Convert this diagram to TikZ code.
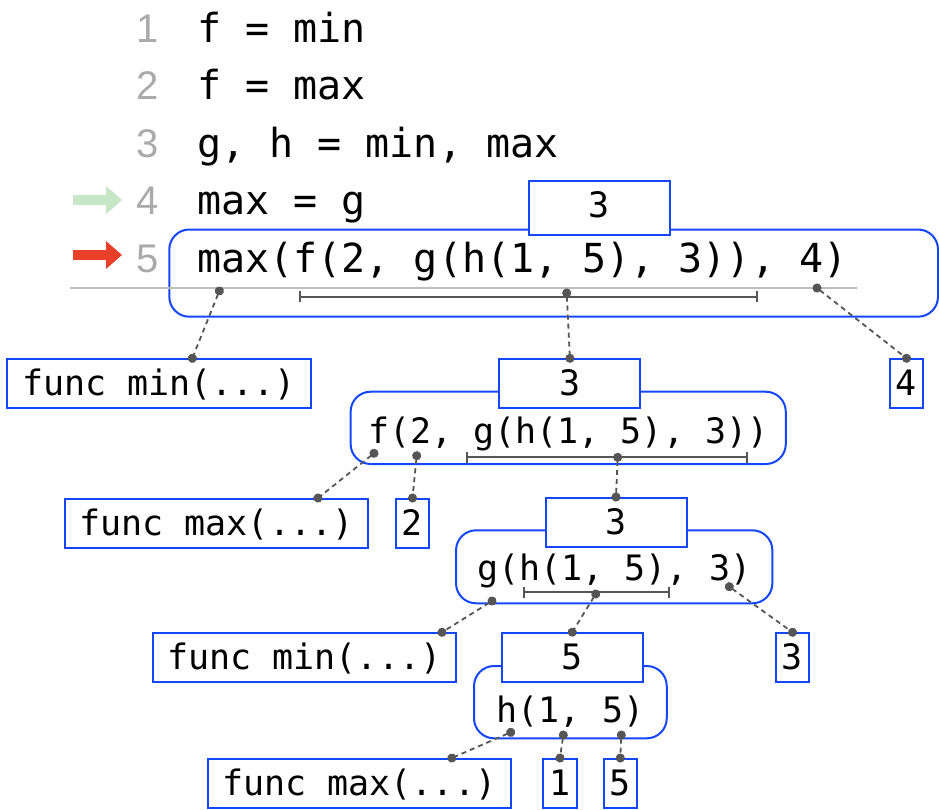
\documentclass[tikz,border=0pt]{standalone}
\usepackage{fontspec}
\usetikzlibrary{arrows.meta}
\newfontfamily\codemono{DejaVu Sans Mono}
\newfontfamily\numsans{Liberation Sans}
\definecolor{frameblue}{RGB}{20,70,255}
\definecolor{linkgray}{RGB}{85,85,85}
\definecolor{rulegray}{RGB}{190,190,190}
\definecolor{numgray}{RGB}{170,170,170}
\definecolor{nextgreen}{RGB}{198,230,198}
\definecolor{nowred}{RGB}{234,64,42}
\tikzset{
  codeline/.style={anchor=base west, inner sep=0pt, font=\codemono\fontsize{40}{48}\selectfont},
  lineno/.style={anchor=base east, inner sep=0pt, text=numgray, font=\numsans\fontsize{40}{48}\selectfont},
  frame/.style={draw=frameblue, line width=2pt, fill=white, inner ysep=0.5pt, text height=36pt, text depth=12pt, font=\codemono\fontsize{35}{42}\selectfont},
  result/.style={frame, minimum width=141pt, inner xsep=0pt},
  value/.style={frame, inner xsep=6pt},
  func/.style={frame, inner xsep=14.7pt},
  call/.style={draw=frameblue, line width=2pt, rounded corners=20pt, inner ysep=0pt, anchor=base, font=\codemono\fontsize{35}{42}\selectfont},
  link/.style={draw=linkgray, line width=1.8pt, dash pattern=on 5pt off 4pt, {Circle[length=9pt]}-{Circle[length=9pt]}, shorten <=-4.5pt, shorten >=-4.5pt},
  span/.style={draw=linkgray, line width=2pt, {Bar[width=11pt]}-{Bar[width=11pt]}},
  marker/.style={line width=10pt, -{Triangle[length=16pt,width=27pt]}},
}
\begin{document}
\begin{tikzpicture}[x=1pt, y=-1pt]
  \useasboundingbox (0,0) rectangle (939,809);
  % source lines
  \foreach \n/\y in {1/42,2/99.5,3/157,4/214.5,5/272}
    \node[lineno] (num\n) at (159,\y) {\n};
  \node[codeline] (line1) at (197,42) {f = min};
  \node[codeline] (line2) at (197,99.5) {f = max};
  \node[codeline] (line3) at (197,157) {g, h = min, max};
  \node[codeline] (line4) at (197,214.5) {max = g};
  \draw[marker, nextgreen] (73,200) -- (122,200);
  \draw[marker, nowred] (73,255) -- (122,255);
  % outer call
  \draw[frameblue, line width=2pt, rounded corners=20pt] (169.3,229.5) rectangle (938,316.7);
  \draw[rulegray, line width=2pt] (70,288) -- (857,288);
  \node[codeline] (line5) at (197,272) {max(f(2, g(h(1, 5), 3)), 4)};
  \node[result, minimum height=54pt, text height=30pt] (res0) at (599.5,208) {3};
  \draw[span] (299.3,296.7) -- (758.3,296.7);
  \coordinate (d0a) at (219.3,291);
  \coordinate (d0b) at (566.7,293);
  \coordinate (d0c) at (817,288);
  \node[func] (fnmin1) at (159,383.8) {func min(...)};
  \node[value] (val4) at (906.5,383.8) {4};
  % f(...)
  \node[call, text height=51.6pt, text depth=20.7pt, inner xsep=17.4pt] (callf) at (568.2,443.3) {f(2, g(h(1, 5), 3))};
  \node[result] (resf) at (569.9,383.8) {3};
  \draw[span] (466,457.3) -- (748.3,457.3);
  \coordinate (d1a) at (374,453.3);
  \coordinate (d1b) at (416.7,455.7);
  \coordinate (d1c) at (617.7,457.3);
  \node[func] (fnmax1) at (216.4,523.5) {func max(...)};
  \node[value] (val2) at (412.5,523.5) {2};
  % g(...)
  \node[call, text height=49.7pt, text depth=23.3pt, inner xsep=21.2pt] (callg) at (614.2,580) {g(h(1, 5), 3)};
  \node[result] (resg) at (616,522.5) {3};
  \draw[span] (523.3,592.3) -- (670,592.3);
  \coordinate (d2a) at (492,601);
  \coordinate (d2b) at (595.7,594);
  \coordinate (d2c) at (729.3,586.7);
  \node[func] (fnmin2) at (304.3,657.8) {func min(...)};
  \node[value] (val3) at (792.5,657.8) {3};
  % h(...)
  \node[call, text height=56.7pt, text depth=15.6pt, inner xsep=22.6pt] (callh) at (570.4,722.7) {h(1, 5)};
  \node[result] (resh) at (572.2,657.7) {5};
  \coordinate (d3a) at (510.7,732.3);
  \coordinate (d3b) at (563.3,735);
  \coordinate (d3c) at (621.3,735);
  \node[func] (fnmax2) at (359.2,783.5) {func max(...)};
  \node[value] (val1) at (560,783.5) {1};
  \node[value] (val5) at (620.3,783.5) {5};
  % links
  \draw[link] (d0a) -- ([xshift=186pt]fnmin1.north west);
  \draw[link] (d0b) -- (resf.north);
  \draw[link] (d0c) -- (val4.north);
  \draw[link] (d1a) -- ([xshift=254.3pt]fnmax1.north west);
  \draw[link] (d1b) -- (val2.north);
  \draw[link] (d1c) -- (resg.north);
  \draw[link] (d2a) -- ([xshift=290.4pt]fnmin2.north west);
  \draw[link] (d2b) -- (resh.north);
  \draw[link] (d2c) -- (val3.north);
  \draw[link] (d3a) -- ([xshift=245.3pt]fnmax2.north west);
  \draw[link] (d3b) -- (val1.north);
  \draw[link] (d3c) -- (val5.north);
\end{tikzpicture}
\end{document}
